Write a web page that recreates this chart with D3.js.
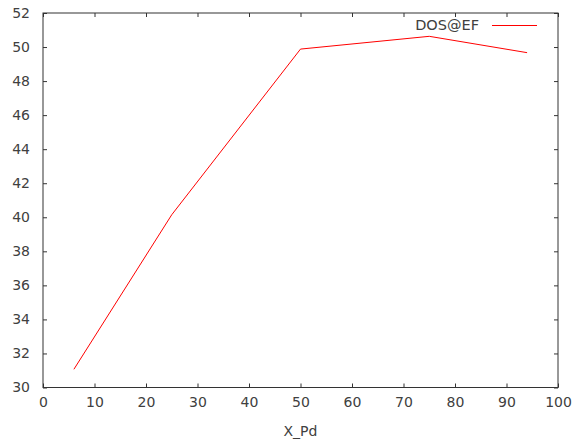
<!DOCTYPE html>
<html>
<head>
<meta charset="utf-8">
<script src="https://cdn.jsdelivr.net/npm/d3@7"></script>
<style>
  body { margin: 0; background: #fff; }
  text { font-family: "DejaVu Sans", sans-serif; fill: #404040; }
</style>
</head>
<body>
<div id="chart"></div>
<script>
const xValues = [6, 25, 50, 75, 94];
const dosValues = [31.07, 40.15, 49.88, 50.63, 49.67];
const xTicks = [0, 10, 20, 30, 40, 50, 60, 70, 80, 90, 100];
const yTicks = [30, 32, 34, 36, 38, 40, 42, 44, 46, 48, 50, 52];
const seriesName = "DOS@EF";
const xLabel = "X_Pd";

const width = 573, height = 445;
const margin = { top: 13, right: 15, bottom: 57.5, left: 43 };
const innerW = width - margin.left - margin.right;
const innerH = height - margin.top - margin.bottom;

const svg = d3.select("#chart").append("svg")
  .attr("width", width)
  .attr("height", height);

const g = svg.append("g")
  .attr("transform", `translate(${margin.left},${margin.top})`);

const x = d3.scaleLinear().domain([0, 100]).range([0, innerW]);
const y = d3.scaleLinear().domain([30, 52]).range([innerH, 0]);

const tickLen = 4;
const axisColor = "#333";

// bottom axis, ticks pointing in
const axBottom = g.append("g")
  .attr("transform", `translate(0,${innerH})`)
  .call(d3.axisBottom(x).tickValues(xTicks).tickSize(-tickLen).tickPadding(10).tickSizeOuter(0));
// top mirror ticks
const axTop = g.append("g")
  .call(d3.axisTop(x).tickValues(xTicks).tickSize(-tickLen).tickFormat("").tickSizeOuter(0));
// left axis
const axLeft = g.append("g")
  .call(d3.axisLeft(y).tickValues(yTicks).tickSize(-tickLen).tickPadding(13).tickSizeOuter(0));
// right mirror ticks
const axRight = g.append("g")
  .attr("transform", `translate(${innerW},0)`)
  .call(d3.axisRight(y).tickValues(yTicks).tickSize(-tickLen).tickFormat("").tickSizeOuter(0));

[axBottom, axTop, axLeft, axRight].forEach(a => {
  a.select(".domain").remove();
  a.selectAll("line").attr("stroke", axisColor);
  a.selectAll("text").style("font-size", "14px").attr("fill", "#404040");
});

g.append("rect")
  .attr("x", 0).attr("y", 0)
  .attr("width", innerW).attr("height", innerH)
  .attr("fill", "none")
  .attr("stroke", axisColor)
  .attr("stroke-width", 1);

const line = d3.line()
  .x((d, i) => x(xValues[i]))
  .y(d => y(d));

g.append("path")
  .datum(dosValues)
  .attr("fill", "none")
  .attr("stroke", "#ff0000")
  .attr("stroke-width", 1)
  .attr("d", line);

// legend
g.append("text")
  .attr("x", 479 - margin.left)
  .attr("y", 25 - margin.top)
  .attr("dy", "0.35em")
  .attr("text-anchor", "end")
  .style("font-size", "14.5px")
  .text(seriesName);

g.append("line")
  .attr("x1", 492 - margin.left).attr("x2", 537 - margin.left)
  .attr("y1", 25.5 - margin.top).attr("y2", 25.5 - margin.top)
  .attr("stroke", "#ff0000");

svg.append("text")
  .attr("x", margin.left + innerW / 2)
  .attr("y", 431)
  .attr("dy", "0.35em")
  .attr("text-anchor", "middle")
  .style("font-size", "14px")
  .text(xLabel);
</script>
</body>
</html>
